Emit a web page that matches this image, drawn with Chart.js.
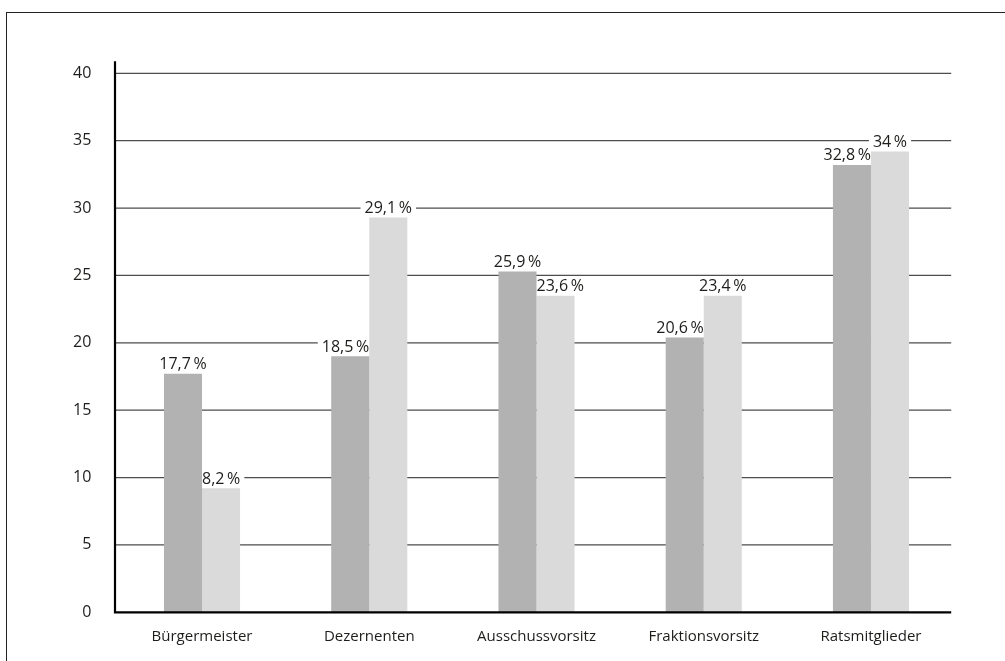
<!DOCTYPE html>
<html>
<head>
<meta charset="utf-8">
<script src="https://cdn.jsdelivr.net/npm/chart.js@4.4.1/dist/chart.umd.min.js"></script>
<style>
html, body { margin: 0; padding: 0; background: #fff; overflow: hidden; }
#wrap { position: relative; width: 1005px; height: 661px; }
#frame { position: absolute; left: 6px; top: 12px; width: 1100px; height: 700px;
         border-top: 1.5px solid #222; border-left: 1.5px solid #222; }
canvas { position: absolute; left: 0; top: 0; }
</style>
</head>
<body>
<div id="wrap">
    <div id="frame"></div>
    <canvas id="grafico" width="1005" height="661"></canvas>
</div>
<script>
/* Funktionen - zwei Reihen */
const categorias = ['Bürgermeister', 'Dezernenten', 'Ausschussvorsitz', 'Fraktionsvorsitz', 'Ratsmitglieder'];
const serieEscura = [17.7, 19.0, 25.3, 20.4, 33.2];
const serieClara  = [9.2, 29.3, 23.5, 23.5, 34.2];
const rotulosEscura = ['17,7\u2009%', '18,5\u2009%', '25,9\u2009%', '20,6\u2009%', '32,8\u2009%'];
const rotulosClara  = ['8,2\u2009%', '29,1\u2009%', '23,6\u2009%', '23,4\u2009%', '34\u2009%'];
const ticksY = [0, 5, 10, 15, 20, 25, 30, 35, 40];

const FAMILIA = "'Open Sans', sans-serif";
const FONTE = "16px " + FAMILIA;
const COR_TEXTO = '#1d1d1b';
const DESLOC = 3.4;   // Gitter und Achse etwas links von den Kategorien

Chart.defaults.font.family = FAMILIA;
Chart.defaults.font.size = 16;
Chart.defaults.color = COR_TEXTO;

// Beschriftung bleibt über dem eigenen Balken, wenn der Nachbar höher ist
function posRotulo(chart, i, j, w) {
    const bar = chart.getDatasetMeta(i).data[j];
    const viz = chart.getDatasetMeta(1 - i).data[j];
    let x = bar.x;
    if (viz.y < bar.y) {
        const meia = bar.width / 2;
        x = i === 0 ? bar.x + meia - w / 2 : bar.x - meia + w / 2;
    }
    return { x, y: bar.y };
}

const gradeERotulos = {
    id: 'gradeERotulos',
    beforeDatasetsDraw(chart) {
        const { ctx, chartArea: a, scales: { y } } = chart;
        ctx.save();
        ctx.strokeStyle = '#4d4d4d';
        ctx.lineWidth = 1.2;
        ticksY.forEach(v => {
            if (v === 0) return;
            const py = y.getPixelForValue(v);
            ctx.beginPath();
            ctx.moveTo(a.left - DESLOC, py);
            ctx.lineTo(a.right - DESLOC, py);
            ctx.stroke();
        });
        // weiße Felder hinter den Beschriftungen
        ctx.font = FONTE;
        ctx.fillStyle = '#fff';
        chart.data.datasets.forEach((ds, i) => {
            ds.rotulos.forEach((txt, j) => {
                const w = ctx.measureText(txt).width;
                const p = posRotulo(chart, i, j, w);
                ctx.fillRect(p.x - w / 2 - 4, p.y - 19, w + 8, 17);
            });
        });
        ctx.restore();
    },
    afterDatasetsDraw(chart) {
        const { ctx, chartArea: a } = chart;
        ctx.save();
        ctx.strokeStyle = '#000';
        ctx.lineWidth = 2.2;
        ctx.beginPath();
        ctx.moveTo(a.left - DESLOC, a.top - 12);
        ctx.lineTo(a.left - DESLOC, a.bottom);
        ctx.lineTo(a.right - DESLOC, a.bottom);
        ctx.stroke();

        ctx.font = FONTE;
        ctx.fillStyle = COR_TEXTO;
        ctx.textAlign = 'center';
        ctx.textBaseline = 'alphabetic';
        chart.data.datasets.forEach((ds, i) => {
            ds.rotulos.forEach((txt, j) => {
                const w = ctx.measureText(txt).width;
                const p = posRotulo(chart, i, j, w);
                ctx.fillText(txt, p.x, p.y - 4.5);
            });
        });
        ctx.restore();
    }
};

new Chart(document.getElementById('grafico'), {
    type: 'bar',
    data: {
        labels: categorias,
        datasets: [
            { data: serieEscura, rotulos: rotulosEscura, backgroundColor: '#b2b2b3', borderWidth: 0 },
            { data: serieClara,  rotulos: rotulosClara,  backgroundColor: '#dadada', borderWidth: 0 },
        ]
    },
    options: {
        responsive: false,
        animation: false,
        events: [],
        layout: { padding: { left: 0, right: 50.4, top: 73.3, bottom: 0 } },
        datasets: { bar: { categoryPercentage: 0.455, barPercentage: 1.0 } },
        plugins: { legend: { display: false }, tooltip: { enabled: false } },
        scales: {
            x: {
                grid: { display: false, drawTicks: false },
                border: { display: false },
                ticks: { padding: 15, color: COR_TEXTO, font: { size: 15 } },
                afterFit: s => { s.height = 48.7; }
            },
            y: {
                min: 0, max: 40,
                grid: { display: false, drawTicks: false },
                border: { display: false },
                ticks: { stepSize: 5, padding: 27, color: COR_TEXTO },
                afterFit: s => { s.width = 118.4; }
            }
        }
    },
    plugins: [gradeERotulos]
});
</script>
</body>
</html>
